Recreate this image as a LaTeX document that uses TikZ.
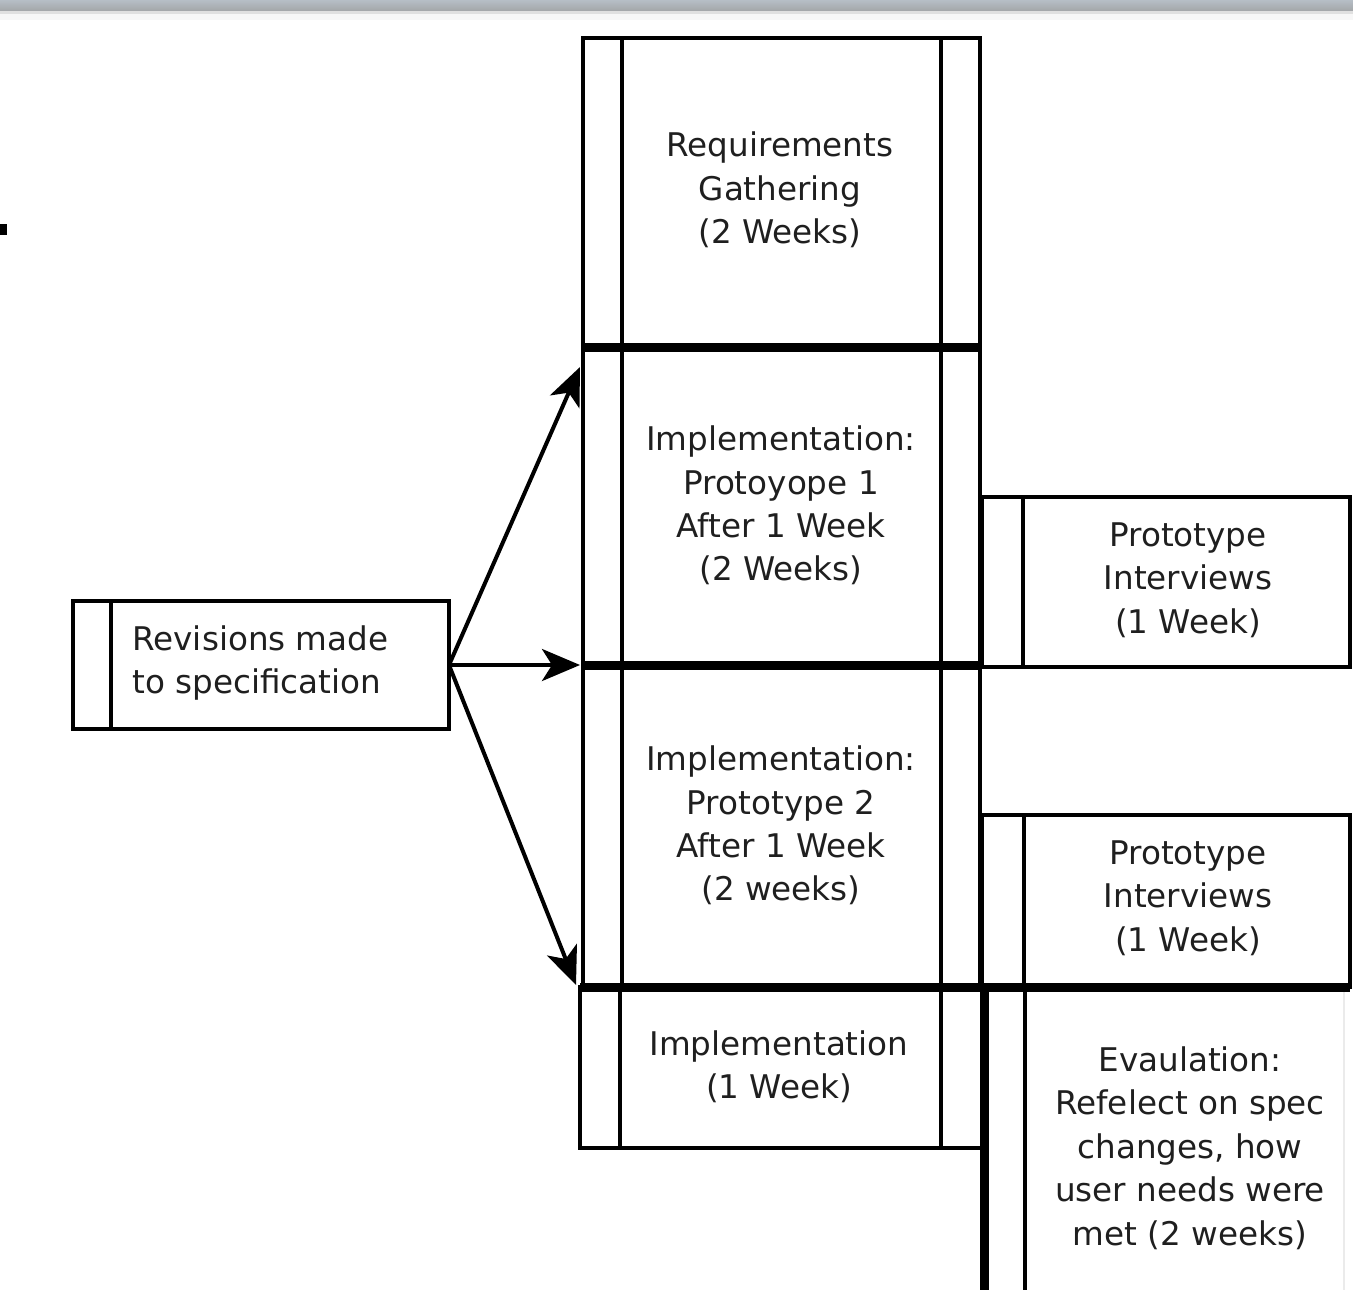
\documentclass[tikz,border=0pt]{standalone}
\usepackage{fontspec}
\setmainfont{DejaVu Sans}
\usetikzlibrary{arrows.meta,calc}
\begin{document}
\begin{tikzpicture}[x=0.5pt,y=-0.5pt,
  box/.style={draw=black,line width=2pt,rectangle,inner sep=0pt,outer sep=0pt},
  sep/.style={line width=4.5pt},
  thinln/.style={line width=2pt},
  lbl/.style={font=\fontsize{16.3pt}{21.7pt}\selectfont,align=center,text=black!88,inner sep=0pt},
  arr/.style={line width=2pt,-{Stealth[length=19pt,width=16pt,inset=5pt]}}]
\useasboundingbox (0,0) rectangle (1353,1290);
\fill[white] (0,0) rectangle (1353,1290);
% top bar
\shade[top color={rgb,255:red,182;green,190;blue,198}, bottom color={rgb,255:red,163;green,166;blue,168}] (0,0) rectangle (1353,11);
\fill[black!12] (0,11) rectangle (1353,14);
\fill[black!3] (0,14) rectangle (1353,20);
\fill[black] (0,224) rectangle (7,235);
% boxes
\node[box,minimum width=198.5pt,minimum height=154.5pt] (req) at (781.5,192.5) {};
\node[box,minimum width=198.5pt,minimum height=159pt] (imp1) at (781.5,506) {};
\node[box,minimum width=198.5pt,minimum height=161pt] (imp2) at (781.5,826) {};
\node[box,minimum width=201pt,minimum height=80.5pt] (imp3) at (781,1067.5) {};
\node[box,minimum width=184pt,minimum height=85pt] (pi1) at (1166,582) {};
\node[box,minimum width=184pt,minimum height=86pt] (pi2) at (1166,901) {};
\node[box,minimum width=188pt,minimum height=64pt] (rev) at (261,665) {};
\node[inner sep=0pt,outer sep=0pt,minimum width=183pt,minimum height=151.5pt] (eval) at (1167,1138.5) {};
% inner side bars
\foreach \b in {req,imp1,imp2}{
  \draw[thinln] ($(\b.north west)+(39,0)$) -- ($(\b.south west)+(39,0)$);
  \draw[thinln] ($(\b.north east)+(-39,0)$) -- ($(\b.south east)+(-39,0)$);
}
\draw[thinln] ($(imp3.north west)+(40,0)$) -- ($(imp3.south west)+(40,0)$);
\draw[thinln] ($(imp3.north east)+(-41,0)$) -- ($(imp3.south east)+(-41,0)$);
\draw[thinln] ($(pi1.north west)+(41,0)$) -- ($(pi1.south west)+(41,0)$);
\draw[thinln] ($(pi2.north west)+(42,0)$) -- ($(pi2.south west)+(42,0)$);
\draw[thinln] ($(rev.north west)+(38,0)$) -- ($(rev.south west)+(38,0)$);
% evaluation box
\draw[sep] (eval.north west) -- (eval.south west);
\draw[thinln] ($(eval.north west)+(41,0)$) -- ($(eval.south west)+(41,0)$);
\draw[black!8,line width=1pt] ($(eval.north east)+(-6,0)$) -- ($(eval.south east)+(-6,0)$);
% thick separators
\draw[sep] (req.south west) -- (req.south east);
\draw[sep] (imp1.south west) -- (imp1.south east);
\draw[sep] (imp3.north west) -- (pi2.south east);
% arrows
\draw[arr] (rev.east) -- ($(imp1.north west)+(-3,20)$);
\draw[arr] (rev.east) -- ($(imp2.north west)+(-3,0)$);
\draw[arr] (rev.east) -- ($(imp3.north west)+(-4,-2)$);
% labels
\node[lbl] (treq) at (780,190) {Requirements\\Gathering\\(2 Weeks)};
\node[lbl] (timp1) at (781,505.5) {Implementation:\\Protoyope 1\\After 1 Week\\(2 Weeks)};
\node[lbl] (timp2) at (781,825.5) {Implementation:\\Prototype 2\\After 1 Week\\(2 weeks)};
\node[lbl] (timp3) at (779,1067) {Implementation\\(1 Week)};
\node[lbl] (tpi1) at (1188,580) {Prototype\\Interviews\\(1 Week)};
\node[lbl] (tpi2) at (1188,898) {Prototype\\Interviews\\(1 Week)};
\node[lbl] (teval) at (1190,1148) {Evaulation:\\Refelect on spec\\changes, how\\user needs were\\met (2 weeks)};
\node[lbl,align=left,anchor=west] (trev) at (132,663) {Revisions made\\to specification};
\end{tikzpicture}
\end{document}
